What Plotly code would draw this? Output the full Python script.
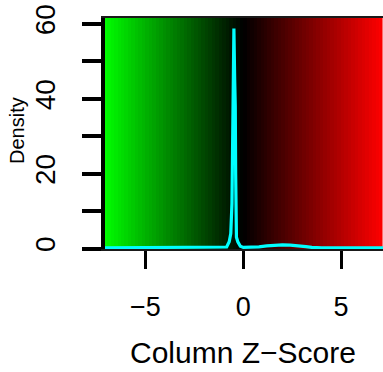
import numpy as np
import plotly.graph_objects as go

# Density curve of the column z-scores
density_x = [-7.22, -1.2, -0.85, -0.72, -0.64, -0.58, -0.53, -0.48, -0.44, -0.41,
             -0.39, -0.35, -0.28, -0.15, 0.0, 0.4, 0.8, 1.2, 1.6, 2.0,
             2.4, 2.8, 3.2, 3.5, 4.0, 7.14]
density_y = [0.2, 0.2, 0.4, 1.8, 4.0, 12.0, 45.0, 58.8, 45.0, 38.0,
             20.0, 3.0, 1.8, 0.6, 0.3, 0.3, 0.45, 0.7, 0.9, 0.95,
             0.9, 0.8, 0.5, 0.3, 0.2, 0.2]

# Colour key
key_min, key_max = -7.14, 7.14
n_colors = 80
key_colors = [[0.0, "#00FF00"], [0.5, "#000000"], [1.0, "#FF0000"]]

x_ticks = [-5, 0, 5]
y_ticks = [0, 10, 20, 30, 40, 50, 60]
y_tick_text = ["0", "", "20", "", "40", "", "60"]

x_range = [-7.067, 7.139]
y_range = [-0.13, 61.6]

breaks = np.linspace(key_min, key_max, n_colors + 1)
mids = (breaks[:-1] + breaks[1:]) / 2

FONT = "Liberation Sans, Arial, sans-serif"

fig = go.Figure()
fig.add_trace(go.Heatmap(
    x=breaks, y=[y_range[0] - 2, y_range[1] + 2], z=[mids],
    colorscale=key_colors, zmin=key_min, zmax=key_max,
    showscale=False, hoverinfo="skip", zsmooth=False,
))
fig.add_trace(go.Scatter(
    x=density_x, y=density_y, mode="lines",
    line=dict(color="#00FFFF", width=3.2), hoverinfo="skip",
))

fig.update_layout(
    width=383, height=372,
    margin=dict(l=105, r=0, t=18, b=123),
    paper_bgcolor="white", plot_bgcolor="white",
    showlegend=False,
    font=dict(family=FONT, color="black"),
)
fig.update_xaxes(
    range=x_range, showgrid=False, zeroline=False,
    tickvals=x_ticks, ticks="outside", ticklen=18, tickwidth=3, tickcolor="black",
    showline=True, linewidth=2, linecolor="#1a1a1a", mirror=True,
    tickfont=dict(size=27, family=FONT), ticklabelstandoff=15,
)
fig.update_yaxes(
    range=y_range, showgrid=False, zeroline=False,
    tickvals=y_ticks, ticktext=y_tick_text, ticks="outside", ticklen=19, tickwidth=4,
    tickcolor="black", tickangle=-90,
    showline=True, linewidth=4, linecolor="black", mirror=False,
    tickfont=dict(size=28, family=FONT), ticklabelstandoff=16,
)
fig.add_annotation(
    text="Column Z\u2212Score", xref="paper", yref="paper",
    x=(242.5 - 105) / 278, y=-(352 - 249) / 231,
    xanchor="center", yanchor="middle", showarrow=False,
    font=dict(size=30, family=FONT, color="black"),
)
fig.add_annotation(
    text="Density", xref="paper", yref="paper",
    x=-(105 - 17) / 278, y=(249 - 131) / 231,
    xanchor="center", yanchor="middle", showarrow=False, textangle=-90,
    font=dict(size=20, family=FONT, color="black"),
)

fig.write_html("out.html")
